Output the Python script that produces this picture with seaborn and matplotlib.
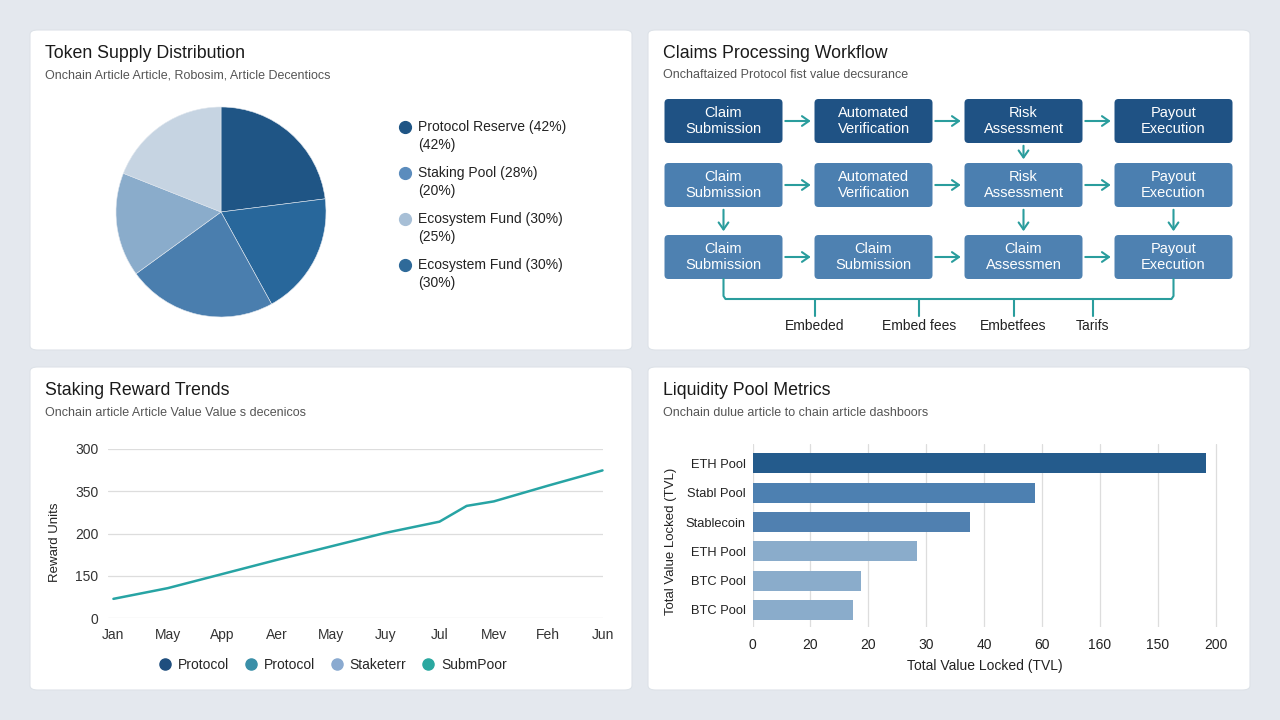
import numpy as np
import pandas as pd
import matplotlib
matplotlib.use("Agg")
import matplotlib.pyplot as plt
from matplotlib.patches import FancyBboxPatch, FancyArrowPatch
from matplotlib.lines import Line2D
import seaborn as sns

# ---------------- data ----------------
pie_values = [23, 19, 23, 16, 19]
pie_colors = ["#1f5585", "#28679b", "#4a7eae", "#8aaccb", "#c6d4e2"]
legend_labels = ["Protocol Reserve (42%)\n(42%)", "Staking Pool (28%)\n(20%)",
                 "Ecosystem Fund (30%)\n(25%)", "Ecosystem Fund (30%)\n(30%)"]
legend_colors = ["#1f5585", "#5b8cbd", "#a7bfd6", "#2f6a99"]

flow_rows = [
    ["Claim\nSubmission", "Automated\nVerification", "Risk\nAssessment", "Payout\nExecution"],
    ["Claim\nSubmission", "Automated\nVerification", "Risk\nAssessment", "Payout\nExecution"],
    ["Claim\nSubmission", "Claim\nSubmission", "Claim\nAssessmen", "Payout\nExecution"],
]
flow_row_colors = ["#1f5284", "#4b7fb0", "#4e81b1"]
flow_down = [(0, 2), (1, 0), (1, 2), (1, 3)]
fee_labels = ["Embeded", "Embed fees", "Embetfees", "Tarifs"]

months = ["Jan", "May", "App", "Aer", "May", "Juy", "Jul", "Mev", "Feh", "Jun"]
line_x = [0, 1, 2, 3, 4, 5, 6, 6.5, 7, 8, 9]
line_y = [34, 53, 78, 103, 127, 151, 171, 199, 207, 235, 262]
y_tick_vals = [0, 75, 150, 225, 300]
y_tick_labels = ["0", "150", "200", "350", "300"]
line_legend = ["Protocol", "Protocol", "Staketerr", "SubmPoor"]
line_legend_colors = ["#1f4e7e", "#3a8fa8", "#8aaad0", "#2aa8a0"]

pools = ["ETH Pool", "Stabl Pool", "Stablecoin", "ETH Pool", "BTC Pool", "BTC Pool"]
tvl = [196, 122, 94, 71, 47, 43.5]
bar_colors = ["#245b8c", "#4d80b1", "#5080b0", "#8aaccb", "#8aaccb", "#8aaccb"]
x_tick_vals = [0, 25, 50, 75, 100, 125, 150, 175, 200]
x_tick_labels = ["0", "20", "20", "30", "40", "60", "160", "150", "200"]

# ---------------- figure ----------------
sns.set_theme(style="white")
plt.rcParams["font.family"] = ["Liberation Sans", "DejaVu Sans"]
W, H = 1280, 720
fig = plt.figure(figsize=(12.8, 7.2), dpi=100)
fig.patch.set_facecolor("#e4e8ee")

def rect(x0, y0, x1, y1):
    return [x0 / W, 1 - y1 / H, (x1 - x0) / W, (y1 - y0) / H]

cards = [(30, 30, 632, 350), (648, 30, 1250, 350), (30, 367, 632, 690), (648, 367, 1250, 690)]
for (x0, y0, x1, y1) in cards:
    p = FancyBboxPatch((x0 / W, 1 - y1 / H), (x1 - x0) / W, (y1 - y0) / H,
                       boxstyle="round,pad=0,rounding_size=0.006",
                       transform=fig.transFigure, facecolor="white",
                       edgecolor="#dde2e8", linewidth=0.8, zorder=-5)
    fig.patches.append(p)

titles = [("Token Supply Distribution", "Onchain Article Article, Robosim, Article Decentiocs", 45, 53, 75),
          ("Claims Processing Workflow", "Onchaftaized Protocol fist value decsurance", 663, 53, 75),
          ("Staking Reward Trends", "Onchain article Article Value Value s decenicos", 45, 391, 413),
          ("Liquidity Pool Metrics", "Onchain dulue article to chain article dashboors", 663, 391, 413)]
for t, s, x, yt, ys in titles:
    fig.text(x / W, 1 - yt / H, t, fontsize=12.8, color="#1a1a1a", va="center", ha="left")
    fig.text(x / W, 1 - ys / H, s, fontsize=9, color="#555555", va="center", ha="left")

# ---------------- pie ----------------
axp = fig.add_axes(rect(116, 107, 326, 317))
axp.pie(pie_values, colors=pie_colors, startangle=90, counterclock=False,
        wedgeprops=dict(linewidth=0.4, edgecolor="#dfe6ee"))
axp.set_xlim(-1.0, 1.0)
axp.set_ylim(-1.0, 1.0)
axp.set_aspect("equal")
axp.axis("off")

for i, (lab, col) in enumerate(zip(legend_labels, legend_colors)):
    yc = 127 + i * 46
    fig.add_artist(Line2D([405 / W], [1 - yc / H], marker="o", markersize=8.5,
                          color=col, linestyle="none", transform=fig.transFigure))
    l1, l2 = lab.split("\n")
    fig.text(418 / W, 1 - yc / H, l1, fontsize=10, color="#222222", va="center")
    fig.text(418 / W, 1 - (yc + 18) / H, l2, fontsize=10, color="#222222", va="center")

# ---------------- workflow ----------------
axw = fig.add_axes([0, 0, 1, 1], facecolor="none")
axw.set_xlim(0, W)
axw.set_ylim(H, 0)
axw.axis("off")
col_x = [664.5, 814.5, 964.5, 1114.5]
bw = 118
row_y = [99, 163, 235]
bh = 44
teal = "#2a9d9d"
for r, labels in enumerate(flow_rows):
    for c, lab in enumerate(labels):
        axw.add_patch(FancyBboxPatch((col_x[c], row_y[r]), bw, bh,
                                     boxstyle="round,pad=0,rounding_size=4",
                                     facecolor=flow_row_colors[r], edgecolor="none"))
        axw.text(col_x[c] + bw / 2, row_y[r] + bh / 2, lab, ha="center", va="center",
                 fontsize=10.5, color="white", linespacing=1.2)
        if c < 3:
            axw.add_patch(FancyArrowPatch((col_x[c] + bw, row_y[r] + bh / 2),
                                          (col_x[c + 1] - 1, row_y[r] + bh / 2),
                                          arrowstyle="->,head_length=5,head_width=3.5",
                                          color=teal, lw=1.5, mutation_scale=1))
for r, c in flow_down:
    xc = col_x[c] + bw / 2
    axw.add_patch(FancyArrowPatch((xc, row_y[r] + bh), (xc, row_y[r + 1] - 1),
                                  arrowstyle="->,head_length=5,head_width=3.5",
                                  color=teal, lw=1.5, mutation_scale=1))
x_a = col_x[0] + bw / 2
x_b = col_x[3] + bw / 2
yb = 299
axw.plot([x_a, x_a, x_a + 2, x_b - 2, x_b, x_b], [row_y[2] + bh, yb - 3, yb, yb, yb - 3, row_y[2] + bh],
         color=teal, lw=1.5, solid_joinstyle="round")
fee_x = [815, 919, 1013.5, 1093]
for fx, fl in zip(fee_x, fee_labels):
    axw.plot([fx, fx], [yb, 316], color=teal, lw=1.5)
    axw.text(fx, 326, fl, ha="center", va="center", fontsize=10, color="#222222")

# ---------------- line chart ----------------
axl = fig.add_axes(rect(108, 449, 602.5, 618))
df_line = pd.DataFrame({"x": line_x, "y": line_y})
sns.lineplot(data=df_line, x="x", y="y", ax=axl, color="#27a4a4", linewidth=1.8)
axl.set_xlim(-0.1, 9.0)
axl.set_ylim(0, 300)
axl.set_yticks(y_tick_vals)
axl.set_yticklabels(y_tick_labels)
axl.set_xticks(range(len(months)))
axl.set_xticklabels(months)
axl.grid(axis="y", color="#dddddd", linewidth=0.9)
axl.grid(axis="x", visible=False)
for s in axl.spines.values():
    s.set_visible(False)
axl.tick_params(axis="both", length=0, labelsize=10, colors="#333333")
axl.tick_params(axis="y", pad=7)
axl.tick_params(axis="x", pad=7)
axl.set_xlabel("")
axl.set_ylabel("Reward Units", fontsize=9.5, color="#222222")
axl.yaxis.set_label_coords(-0.095, 0.45)
axl.set_facecolor("white")
for ln in axl.lines:
    ln.set_clip_on(False)
handles = [Line2D([], [], marker="o", linestyle="none", markersize=8, color=c) for c in line_legend_colors]
fig.legend(handles, line_legend, loc="center", bbox_to_anchor=(333 / W, 1 - 665 / H),
           ncol=4, frameon=False, fontsize=10, handlelength=0.8, handletextpad=0.5,
           columnspacing=1.2)

# ---------------- bar chart ----------------
axb = fig.add_axes(rect(752.5, 444, 1218, 627))
df_bar = pd.DataFrame({"slot": [str(i) for i in range(len(pools))], "tvl": tvl})
sns.barplot(data=df_bar, x="tvl", y="slot", hue="slot", palette=bar_colors, legend=False,
            ax=axb, orient="h", width=0.68, saturation=1)
for p in axb.patches:
    p.set_edgecolor("none")
axb.set_ylim(5.58, -0.66)
axb.set_xlim(0, 201)
axb.set_xticks(x_tick_vals)
axb.set_xticklabels(x_tick_labels)
axb.set_yticks(range(len(pools)))
axb.set_yticklabels(pools)
axb.grid(axis="x", color="#dddddd", linewidth=0.9)
axb.grid(axis="y", visible=False)
axb.set_axisbelow(True)
for s in axb.spines.values():
    s.set_visible(False)
axb.tick_params(axis="both", length=0, labelsize=10, colors="#222222")
axb.tick_params(axis="y", labelsize=9.3, pad=5)
axb.tick_params(axis="x", pad=8)
axb.set_xlabel("Total Value Locked (TVL)", fontsize=10, color="#222222", labelpad=5)
axb.set_ylabel("Total Value Locked (TVL)", fontsize=9.5, color="#222222")
axb.yaxis.set_label_coords(-0.163, 0.47)

fig.savefig("out.png", dpi=100, facecolor=fig.get_facecolor())
